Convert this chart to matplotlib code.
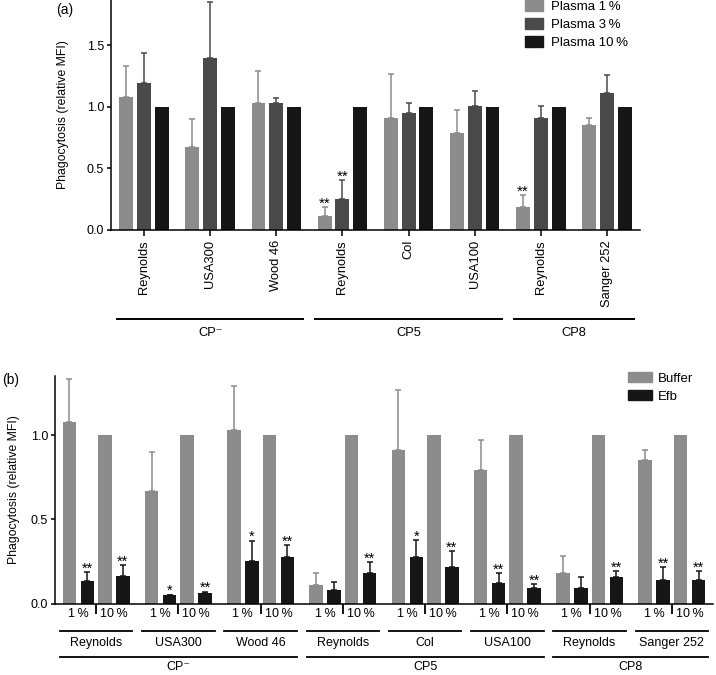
import matplotlib
matplotlib.use("Agg")
import matplotlib.pyplot as plt
from matplotlib.lines import Line2D
from matplotlib.patches import Patch
from matplotlib.transforms import blended_transform_factory

plt.rcParams["font.family"] = ["Liberation Sans", "DejaVu Sans"]

# %%
# Data
strains = ["Reynolds", "USA300", "Wood 46", "Reynolds", "Col", "USA100",
           "Reynolds", "Sanger 252"]
cp_types = ["CP\u207b", "CP5", "CP8"]
cp_members = [[0, 1, 2], [3, 4, 5], [6, 7]]

# panel (a): plasma concentrations
plasma1 = [1.08, 0.67, 1.03, 0.11, 0.91, 0.79, 0.18, 0.85]
plasma1_err = [0.25, 0.23, 0.26, 0.07, 0.36, 0.18, 0.10, 0.06]
plasma3 = [1.19, 1.40, 1.03, 0.25, 0.95, 1.01, 0.91, 1.11]
plasma3_err = [0.25, 0.45, 0.04, 0.15, 0.08, 0.12, 0.10, 0.15]
plasma10 = [1.0, 1.0, 1.0, 1.0, 1.0, 1.0, 1.0, 1.0]
plasma1_sig = ["", "", "", "**", "", "", "**", ""]
plasma3_sig = ["", "", "", "**", "", "", "", ""]

# panel (b): buffer vs Efb at 1 % and 10 % plasma
buffer1 = [1.08, 0.67, 1.03, 0.11, 0.91, 0.79, 0.18, 0.85]
buffer1_err = [0.25, 0.23, 0.26, 0.07, 0.36, 0.18, 0.10, 0.06]
buffer10 = [1.0, 1.0, 1.0, 1.0, 1.0, 1.0, 1.0, 1.0]
efb1 = [0.135, 0.049, 0.254, 0.079, 0.276, 0.122, 0.095, 0.142]
efb1_err = [0.052, 0.005, 0.12, 0.05, 0.10, 0.06, 0.065, 0.073]
efb10 = [0.164, 0.065, 0.274, 0.185, 0.215, 0.095, 0.158, 0.142]
efb10_err = [0.063, 0.007, 0.075, 0.06, 0.097, 0.021, 0.037, 0.053]
efb1_sig = ["**", "*", "*", "", "*", "**", "", "**"]
efb10_sig = ["**", "**", "**", "**", "**", "**", "**", "**"]
conc_labels = ["1\u2009%", "10\u2009%"]

LIGHT = "#8c8c8c"
MID = "#4a4a4a"
DARK = "#161616"

W, H = 716, 675
fig = plt.figure(figsize=(W / 100, H / 100), dpi=100)


def fx(px):
    return px / W


def fy(py):
    return 1 - py / H


def style_axes(ax):
    for s in ["top", "right"]:
        ax.spines[s].set_visible(False)
    for s in ["left", "bottom"]:
        ax.spines[s].set_linewidth(1.1)
    ax.tick_params(axis="y", length=3, width=1.1, labelsize=9, pad=2)


def bars_with_err(ax, x, h, err, color, width, sig=None, fs=11):
    ax.bar(x, h, width=width, color=color, linewidth=0)
    if err is not None:
        ax.errorbar(x, h, yerr=[[0] * len(h), err], fmt="none", ecolor=color,
                    elinewidth=1.1, capsize=1.9, capthick=1.1)
    if sig is not None:
        for xi, hi, ei, s in zip(x, h, err, sig):
            if s:
                ax.annotate(s, (xi, hi + ei), xytext=(0, -2.5),
                            textcoords="offset points", ha="center",
                            va="bottom", fontsize=fs)


# %%
# Panel (a)
axa = fig.add_axes([fx(111), fy(229.5), fx(529), 229.5 / H])
style_axes(axa)
idx = list(range(len(strains)))
off, bw = 0.27, 0.21
bars_with_err(axa, [i - off for i in idx], plasma1, plasma1_err, LIGHT, bw,
              plasma1_sig)
bars_with_err(axa, idx, plasma3, plasma3_err, MID, bw, plasma3_sig)
axa.bar([i + off for i in idx], plasma10, width=bw, color=DARK, linewidth=0)
axa.set_xlim(-0.5, 7.5)
axa.set_ylim(0, 1.87)
axa.set_yticks([0, 0.5, 1.0, 1.5])
axa.set_yticklabels(["0.0", "0.5", "1.0", "1.5"])
axa.set_xticks(idx)
axa.set_xticklabels(strains, rotation=90, fontsize=9.3)
axa.tick_params(axis="x", length=4, width=1.1, pad=3.5)
axa.legend(handles=[Patch(color=LIGHT, label="Plasma 1\u2009%"),
                    Patch(color=MID, label="Plasma 3\u2009%"),
                    Patch(color=DARK, label="Plasma 10\u2009%")],
           loc="upper left", bbox_to_anchor=(fx(525), fy(0)),
           bbox_transform=fig.transFigure, frameon=False, fontsize=9.5,
           handlelength=1.4, handleheight=0.85, handletextpad=0.6,
           labelspacing=0.4, borderpad=0, borderaxespad=0)

tra = blended_transform_factory(axa.transData, fig.transFigure)
for name, members in zip(cp_types, cp_members):
    x0, x1 = members[0] - 0.41, members[-1] + 0.41
    axa.add_line(Line2D([x0, x1], [fy(318.7)] * 2, transform=tra,
                        color="black", lw=1.4, clip_on=False))
    axa.text((x0 + x1) / 2, fy(333), name, transform=tra, ha="center",
             va="center", fontsize=9.3)

fig.text(fx(65), fy(10), "(a)", ha="center", va="center", fontsize=10)
fig.text(fx(63), fy(115), "Phagocytosis (relative MFI)", rotation=90,
         ha="center", va="center", fontsize=8.8)

# %%
# Panel (b)
axb = fig.add_axes([fx(55), fy(603.7), fx(658), 228 / H])
style_axes(axb)
sub, boff, bw2 = 0.216, 0.109, 0.164
for k, (buf, buf_err, efb, efb_err, efb_sig) in enumerate(
        [(buffer1, buffer1_err, efb1, efb1_err, efb1_sig),
         (buffer10, None, efb10, efb10_err, efb10_sig)]):
    centers = [i + (2 * k - 1) * sub for i in idx]
    bars_with_err(axb, [c - boff for c in centers], buf, buf_err, LIGHT, bw2)
    bars_with_err(axb, [c + boff for c in centers], efb, efb_err, DARK, bw2,
                  efb_sig, fs=10.5)
axb.set_xlim(-0.5, 7.5)
axb.set_ylim(0, 1.352)
axb.set_yticks([0, 0.5, 1.0])
axb.set_yticklabels(["0.0", "0.5", "1.0"])
axb.set_xticks(idx)
axb.set_xticklabels([])
axb.tick_params(axis="x", length=7, width=1.3)
axb.legend(handles=[Patch(color=LIGHT, label="Buffer"),
                    Patch(color=DARK, label="Efb")],
           loc="upper left", bbox_to_anchor=(fx(628), fy(372)),
           bbox_transform=fig.transFigure, frameon=False, fontsize=9.5,
           handlelength=1.8, handleheight=0.8, handletextpad=0.45,
           labelspacing=0.4, borderpad=0, borderaxespad=0)

trb = blended_transform_factory(axb.transData, fig.transFigure)
for i in idx:
    for k in range(2):
        axb.text(i + (2 * k - 1) * sub, fy(614), conc_labels[k], transform=trb,
                 ha="center", va="center", fontsize=9)
    axb.add_line(Line2D([i - 0.44, i + 0.44], [fy(630.7)] * 2, transform=trb,
                        color="black", lw=1.3, clip_on=False))
    axb.text(i, fy(643), strains[i], transform=trb, ha="center", va="center",
             fontsize=9)
for name, members in zip(cp_types, cp_members):
    x0, x1 = members[0] - 0.44, members[-1] + 0.44
    axb.add_line(Line2D([x0, x1], [fy(656.7)] * 2, transform=trb,
                        color="black", lw=1.3, clip_on=False))
    axb.text((x0 + x1) / 2, fy(667.5), name, transform=trb, ha="center",
             va="center", fontsize=9)

fig.text(fx(11), fy(380), "(b)", ha="center", va="center", fontsize=10)
fig.text(fx(14), fy(489.7), "Phagocytosis (relative MFI)", rotation=90,
         ha="center", va="center", fontsize=8.8)

fig.savefig("out.png", dpi=100)
